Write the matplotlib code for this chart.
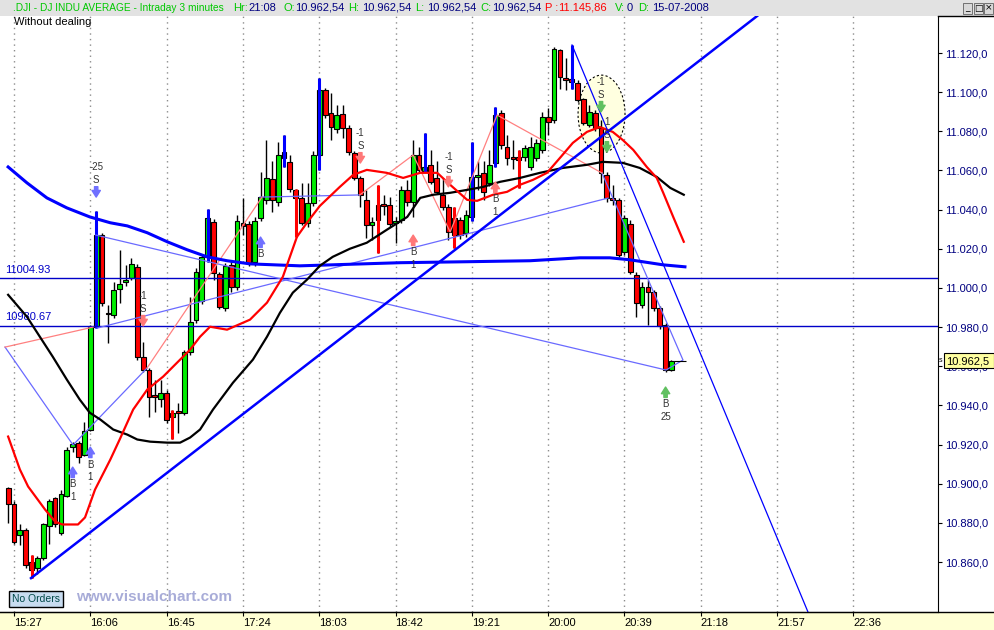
import matplotlib
matplotlib.use('Agg')
import matplotlib.pyplot as plt
from matplotlib.patches import Rectangle, Ellipse
from matplotlib.lines import Line2D
import numpy as np

plt.rcParams['font.family'] = ['Liberation Sans', 'DejaVu Sans']

W, H = 994, 630

# 3 minute bars, bar 0 = 15:27
bars = list(range(-1, 113))
opens = [10897.6, 10889.9, 10874.0, 10876.5, 10860.0, 10857.2, 10862.0, 10878.2, 10892.5, 10875.1,
         10894.0, 10919.0, 10921.0, 10914.9, 10927.7, 10980.0, 11027.0, 10987.0, 10986.3, 10999.6,
         11003.2, 11005.2, 11010.8, 10964.9, 10958.3, 10945.5, 10943.5, 10946.5, 10934.3, 10936.8,
         10936.3, 10967.4, 10983.8, 10993.5, 11015.9, 11033.8, 11007.2, 10989.9, 11011.8, 11000.6,
         11033.3, 11032.8, 11013.4, 11035.8, 11045.0, 11055.7, 11044.0, 11069.5, 11064.4, 11050.1,
         11046.0, 11033.3, 11043.5, 11068.0, 11101.1, 11089.4, 11081.2, 11088.9, 11081.7, 11069.0,
         11056.2, 11045.0, 11032.2, 11042.4, 11042.4, 11042.4, 11033.3, 11034.8, 11050.1, 11044.0,
         11068.0, 11059.8, 11062.9, 11056.2, 11047.6, 11041.4, 11035.8, 11034.8, 11028.2, 11036.3,
         11056.7, 11058.8, 11053.7, 11063.9, 11089.4, 11072.0, 11066.9, 11066.9, 11066.9, 11061.8,
         11066.4, 11070.5, 11087.3, 11085.8, 11121.5, 11107.2, 11106.7, 11104.7, 11096.5, 11083.3,
         11089.4, 11081.7, 11057.8, 11046.0, 11045.0, 11018.5, 11032.8, 11006.7, 10991.4, 11000.6,
         10998.1, 10989.9, 10981.2, 10958.3]
highs = [10898.5, 10891.0, 10879.7, 10877.5, 10863.4, 10863.0, 10880.0, 10892.0, 10893.0, 10897.0,
         10919.0, 10921.5, 10922.0, 10931.7, 10981.0, 11039.4, 11028.2, 10991.4, 11003.2, 11019.5,
         11011.8, 11015.4, 11012.0, 10972.5, 10959.0, 10953.2, 10953.2, 10948.1, 10937.9, 10941.4,
         10968.5, 10995.5, 11010.0, 11017.0, 11040.4, 11035.0, 11008.0, 11013.0, 11014.0, 11037.3,
         11046.0, 11034.0, 11036.0, 11059.3, 11075.6, 11065.0, 11074.6, 11078.2, 11068.0, 11050.5,
         11053.7, 11053.7, 11070.0, 11107.2, 11102.0, 11099.6, 11093.5, 11093.5, 11083.0, 11070.0,
         11057.0, 11050.0, 11036.0, 11052.7, 11047.6, 11046.5, 11036.0, 11052.0, 11055.2, 11075.6,
         11072.0, 11079.2, 11070.5, 11065.0, 11056.0, 11043.0, 11041.4, 11036.0, 11040.0, 11074.6,
         11065.0, 11065.0, 11070.5, 11092.4, 11091.0, 11078.0, 11075.6, 11070.5, 11073.0, 11077.1,
         11076.0, 11090.0, 11091.9, 11123.1, 11122.0, 11117.4, 11124.1, 11106.0, 11097.0, 11093.5,
         11091.0, 11085.8, 11059.0, 11052.7, 11046.0, 11037.3, 11034.8, 11008.0, 11003.2, 11004.0,
         10999.0, 10991.0, 10982.0, 10963.0]
lows = [10880.2, 10869.0, 10868.5, 10857.0, 10852.1, 10853.7, 10861.0, 10869.0, 10878.0, 10874.0,
        10893.0, 10916.4, 10910.8, 10914.0, 10927.0, 10979.7, 10991.0, 10972.0, 10984.8, 10992.5,
        11001.0, 11004.0, 10963.4, 10957.0, 10934.3, 10936.8, 10939.4, 10931.0, 10923.1, 10926.1,
        10935.0, 10966.0, 10982.0, 10992.0, 11013.4, 11004.2, 10989.0, 10988.0, 10998.0, 10999.0,
        11027.0, 11011.0, 11011.0, 11034.0, 11043.0, 11039.0, 11042.0, 11061.8, 11049.0, 11026.1,
        11032.0, 11031.0, 11042.0, 11060.3, 11087.0, 11075.6, 11079.0, 11076.6, 11068.0, 11055.0,
        11041.4, 11025.6, 11024.6, 11018.0, 11037.3, 11031.0, 11023.1, 11033.0, 11042.0, 11036.3,
        11059.0, 11059.0, 11053.0, 11048.0, 11040.0, 11024.6, 11020.5, 11025.0, 11026.0, 11034.0,
        11050.0, 11045.0, 11052.0, 11062.0, 11071.0, 11063.0, 11061.0, 11051.1, 11065.0, 11060.0,
        11065.0, 11069.0, 11078.2, 11084.0, 11101.6, 11101.0, 11101.6, 11095.0, 11083.0, 11082.0,
        11080.0, 11053.7, 11044.0, 11042.4, 11016.0, 11017.0, 11007.0, 10985.3, 10990.0, 10981.2,
        10988.0, 10979.0, 10957.2, 10957.5]
closes = [10889.9, 10870.0, 10876.5, 10858.3, 10856.0, 10862.3, 10879.2, 10891.4, 10879.2, 10895.0,
          10917.4, 10920.5, 10913.9, 10927.1, 10980.2, 11027.1, 10992.5, 10986.5, 10999.1, 11002.1,
          11004.2, 11012.3, 10964.9, 10958.3, 10944.5, 10944.5, 10946.5, 10932.8, 10936.3, 10936.3,
          10967.4, 10982.8, 11008.3, 11015.9, 11035.8, 11007.8, 10990.4, 11011.3, 11000.6, 11034.3,
          11031.7, 11012.9, 11034.3, 11046.5, 11056.2, 11045.0, 11068.0, 11066.4, 11050.6, 11046.0,
          11033.3, 11043.5, 11068.0, 11101.1, 11088.4, 11082.2, 11088.4, 11081.7, 11069.5, 11056.2,
          11047.6, 11032.2, 11033.8, 11034.8, 11042.0, 11032.8, 11034.3, 11050.1, 11044.0, 11068.0,
          11060.3, 11061.8, 11054.2, 11049.1, 11041.4, 11028.7, 11027.1, 11027.1, 11037.3, 11056.7,
          11057.8, 11049.1, 11062.9, 11088.4, 11073.1, 11066.4, 11065.9, 11065.4, 11071.5, 11072.0,
          11074.1, 11087.3, 11084.8, 11122.0, 11107.8, 11106.2, 11105.2, 11096.0, 11084.3, 11089.9,
          11081.7, 11058.8, 11046.0, 11045.0, 11017.0, 11035.8, 11008.3, 10992.5, 11000.6, 10998.1,
          10989.9, 10980.7, 10958.3, 10962.5]

# swing bars marked by the indicator
mark_high = [14, 33, 46, 52, 70, 78, 82, 95]
mark_low = [3, 27, 48, 62, 75, 86]

# moving averages (shifted 2 bars ahead)
red_ma_x = [-1, 1, 2.4, 5.3, 7, 8.2, 10.9, 12.1, 13.8, 16.4, 18, 20.3, 22.7, 25.4, 28.3, 30, 31.7,
            33.4, 36.3, 40.2, 43.1, 45.8, 48.2, 49.9, 52.1, 55.5, 57.8, 60.1, 63.5, 66.3, 69.2, 72.1,
            74.3, 77.2, 78.9, 81.6, 84, 86.2, 88.4, 90.8, 93, 95.2, 97.6, 99.8, 102, 103.7, 105.5,
            107.8, 109.5, 110.6, 112.3, 114.1]
red_ma = [10924.1, 10907.3, 10898.6, 10886.8, 10880.7, 10879.2, 10879.2, 10882.8, 10897, 10912.3,
          10922.6, 10937.9, 10948.1, 10954.7, 10963.4, 10968.5, 10975.1, 10980.2, 10978.7, 10983.8,
          10992.5, 11005.7, 11026.1, 11033.3, 11041.9, 11051.6, 11057.8, 11060.3, 11058.8, 11056.2,
          11058.8, 11058.8, 11052.7, 11045, 11044.5, 11047.6, 11049.1, 11052.7, 11055.2, 11058.8,
          11066.4, 11074.1, 11079.7, 11082.2, 11079.7, 11075.6, 11070.5, 11061.8, 11056.2, 11048.6,
          11036.3, 11023.6]
black_ma_x = [-1, 2.2, 4.4, 6.6, 9, 11.2, 12.9, 14.7, 16.9, 19.3, 21, 23.2, 26.1, 28.3, 30, 31.7,
              33.9, 37.3, 40.7, 43.1, 45.3, 47.5, 49.9, 52.1, 54.3, 57.2, 60.1, 63.5, 67, 69.2, 71.4,
              74.3, 77.2, 79.9, 82.8, 86.2, 89.6, 93.5, 97.6, 100.3, 103.7, 106.6, 109.5, 111.8, 114.1]
black_ma = [10996.5, 10985.3, 10975.1, 10964.9, 10953.2, 10943, 10936.3, 10932.8, 10927.7, 10925.1,
            10922.6, 10921.5, 10921, 10921, 10923.6, 10927.7, 10937.9, 10951.6, 10963.4, 10975.1,
            10987.3, 10997.6, 11004.2, 11011.3, 11015.9, 11020, 11023.1, 11029.7, 11036.3, 11046,
            11047.6, 11048.6, 11050.1, 11051.6, 11054.2, 11056.2, 11058.8, 11061.3, 11062.9, 11064.4,
            11063.9, 11061.3, 11056.7, 11051.1, 11047.6]
blue_ma_x = [-1, 2.2, 5.6, 9, 12.9, 16.4, 19.3, 22.7, 26.1, 29.5, 32.9, 36.3, 40.2, 48.7, 65.8, 77.2,
             87.9, 96.4, 101.5, 104.9, 110.6, 114.3]
blue_ma = [11061.8, 11053.7, 11046, 11040.9, 11036.3, 11033.3, 11031.7, 11028.2, 11023.6, 11019.5,
           11015.9, 11013.9, 11012.3, 11011.3, 11012.9, 11013.4, 11013.9, 11015.4, 11015.4, 11014.4,
           11011.8, 11010.8]

# zigzag / channel lines
zz_blue = [([-1.53, 10.06, 22.66], [10969.8, 10919.8, 10959.1]),
           ([41.9, 58.9], [11046.4, 11047.5]),
           ([13.97, 111.07, 113.97, 100.17], [11027.0, 10958.1, 10963.2, 11058.7]),
           ([14.14, 101.19], [10979.5, 11045.9])]
zz_red = [([-1.53, 13.46], [10969.8, 10980.0]),
          ([22.66, 42.25], [10959.1, 11046.4]),
          ([58.9, 68.0, 74.3, 82.3, 100.17], [11047.5, 11067.9, 11028.6, 11088.3, 11058.7])]

# trend lines
up_trend_x, up_trend_y = [2.9, 126.6], [10851.8, 11138.9]
down_trend_x, down_trend_y = [95.06, 135.26], [11124.1, 10834.5]
levels = [11004.93, 10980.67]

# trade signals
sig_bar = [14, 22, 10, 13, 42, 59, 68, 74, 82, 100, 101, 111]
sig_price = [11046.4, 10980.6, 10908.5, 10918.7, 11026.0, 11063.8, 11027.0, 11051.6, 11054.1,
             11089.9, 11069.4, 10949.4]
sig_side = ['S', 'S', 'B', 'B', 'B', 'S', 'B', 'S', 'B', 'S', 'S', 'B']
sig_qty = ['-25', '-1', '1', '1', '', '-1', '1', '-1', '1', '-1', '1', '25']
sig_col = ['#7070ff', '#ff7878', '#7070ff', '#7070ff', '#7070ff', '#ff7878', '#ff7878', '#ff7878',
           '#ff7878', '#60c060', '#60c060', '#60c060']

time_pos = [0, 13, 26, 39, 52, 65, 78, 91, 104, 117, 130, 143]
time_labels = ['15:27', '16:06', '16:45', '17:24', '18:03', '18:42', '19:21', '20:00', '20:39',
               '21:18', '21:57', '22:36']
price_ticks = list(range(10860, 11121, 20))
last_price = 10962.5

fig = plt.figure(figsize=(W / 100, H / 100), dpi=100)
fig.patch.set_facecolor('white')
ax = fig.add_axes([0, 18 / H, 938 / W, 596 / H])
ax.set_xlim(-2.385, 157.41)
ax.set_ylim(10834.5, 11138.9)

for t in time_pos:
    ax.axvline(t, color='#8c8c8c', lw=1, ls=(0, (1, 3)), zorder=0)

ax.add_patch(Ellipse((100.09, 11088.8), 8.0, 39.8, facecolor='#ffffe0', edgecolor='black',
                     lw=0.8, ls=(0, (2, 2)), zorder=1))

# candles
o, h, l, c = map(np.array, (opens, highs, lows, closes))
up = c >= o
ax.vlines(bars, l, h, color='black', lw=1, zorder=3)
ax.bar(bars, np.maximum(np.abs(c - o), 0.8), bottom=np.minimum(o, c), width=0.82,
       color=np.where(up, '#00ee00', '#ff0000'), edgecolor='black', linewidth=0.8, zorder=3.2)
for b in mark_high:
    k = bars.index(b)
    ax.vlines(b, l[k], h[k], color='#0000ff', lw=2.2, zorder=3.5)
for b in mark_low:
    k = bars.index(b)
    ax.vlines(b, l[k], h[k], color='#ff0000', lw=2.2, zorder=3.5)

for lv in levels:
    ax.axhline(lv, color='#0000c8', lw=1, zorder=4)
for xs, ys in zz_blue:
    ax.plot(xs, ys, color='#6a6aff', lw=0.9, zorder=4)
for xs, ys in zz_red:
    ax.plot(xs, ys, color='#ff8080', lw=0.9, zorder=4)

ax.plot(blue_ma_x, blue_ma, color='#0000ff', lw=2.2, zorder=5)
ax.plot(black_ma_x, black_ma, color='black', lw=1.6, zorder=5)
ax.plot(red_ma_x, red_ma, color='#ff0000', lw=1.6, zorder=5)
ax.plot(up_trend_x, up_trend_y, color='#0000ff', lw=1.8, zorder=5)
ax.plot(down_trend_x, down_trend_y, color='#0000ff', lw=0.9, zorder=5)
ax.hlines(last_price, 112.5, 114.5, color='black', lw=0.8, zorder=5)

for b, p, side, qty, col in zip(sig_bar, sig_price, sig_side, sig_qty, sig_col):
    d = 1 if side == 'S' else -1
    ax.annotate('', xy=(b, p), xytext=(0, d * 7.5), textcoords='offset points',
                arrowprops=dict(arrowstyle='simple,head_width=0.75,head_length=0.6,tail_width=0.3',
                                color=col, mutation_scale=8, shrinkA=0, shrinkB=0), zorder=6)
    ax.annotate(side, xy=(b, p), xytext=(0, d * 12.5), textcoords='offset points', ha='center',
                va='center', fontsize=7, color='#333333', zorder=6)
    if qty:
        ax.annotate(qty, xy=(b, p), xytext=(0, d * 21.5), textcoords='offset points',
                    ha='center', va='center', fontsize=7, color='#333333', zorder=6)

for lv, lab in zip(levels, ['11004.93', '10980.67']):
    ax.annotate(lab, xy=(0, lv), xycoords=('axes fraction', 'data'), xytext=(4, 6),
                textcoords='offset points', fontsize=8, color='#0000c8', va='center')

# axes styling
for s in ['left', 'top']:
    ax.spines[s].set_visible(False)
ax.spines['right'].set_color('black')
ax.spines['bottom'].set_color('black')
ax.yaxis.tick_right()
ax.set_yticks(price_ticks)
ax.set_yticklabels([f'{v // 1000}.{v % 1000:03d},0' for v in price_ticks])
ax.tick_params(axis='y', direction='out', length=3, pad=2, labelsize=8, labelcolor='#000080')
ax.set_xticks(time_pos)
ax.set_xticklabels(time_labels)
ax.tick_params(axis='x', direction='out', length=3, pad=1.5, labelsize=8)
for t in ax.get_xticklabels():
    t.set_ha('left')

# frame decorations
fig.add_artist(Rectangle((0, 0), 1, 18 / H, transform=fig.transFigure, facecolor='#ffffd4',
                         edgecolor='none', zorder=-1))
fig.add_artist(Line2D([0, 1], [18 / H, 18 / H], color='black', lw=1))
fig.add_artist(Rectangle((0, 1 - 16 / H), 1, 16 / H, transform=fig.transFigure,
                         facecolor='#e2e2e2', edgecolor='none'))
fig.add_artist(Line2D([938 / W, 1], [1 - 16 / H, 1 - 16 / H], color='black', lw=1))

green, navy, red = '#00c800', '#000080', '#ff0000'
header = [(13, '.DJI - DJ INDU AVERAGE - Intraday 3 minutes', green), (233, 'Hr:', green),
          (248, '21:08', navy), (283, 'O:', green), (295, '10.962,54', navy), (348, 'H:', green),
          (362, '10.962,54', navy), (415, 'L:', green), (427, '10.962,54', navy), (480, 'C:', green),
          (492, '10.962,54', navy), (545, 'P :', red), (558, '11.145,86', red), (615, 'V:', green),
          (627, '0', navy), (638, 'D:', green), (652, '15-07-2008', navy)]
for k, (x, txt, col) in enumerate(header):
    fig.text(x / W, 1 - 8 / H, txt, color=col, fontsize=7.3 if k == 0 else 8, va='center',
             ha='left')
for x, glyph in [(963, '_'), (974, '□'), (984, '×')]:
    fig.add_artist(Rectangle((x / W, 1 - 14 / H), 9 / W, 11 / H, transform=fig.transFigure,
                             facecolor='#d8d8d8', edgecolor='#606060', lw=0.6))
    fig.text((x + 4.5) / W, 1 - 8 / H, glyph, fontsize=6.5, ha='center', va='center',
             family=['DejaVu Sans'])

fig.text(14 / W, 1 - 22 / H, 'Without dealing', fontsize=8, color='black', va='center')
fig.text(12 / W, 1 - 599 / H, 'No Orders', fontsize=7.5, color='#004848', va='center',
         bbox=dict(boxstyle='square,pad=0.25', fc='#c8dcf0', ec='black', lw=1))
fig.text(76 / W, 1 - 597 / H, 'www.visualchart.com', fontsize=11, fontweight='bold',
         color='#a8acd8', va='center')

fig.add_artist(Rectangle((944 / W, 1 - 368 / H), 50 / W, 15 / H, transform=fig.transFigure,
                         facecolor='#ffffa0', edgecolor='black', lw=0.8, zorder=10))
fig.text(946 / W, 1 - 361 / H, '10.962,5', fontsize=8, color='black', va='center', zorder=11)
fig.text(939 / W, 1 - 360 / H, 's', fontsize=5, color='black', va='center', zorder=11)

fig.savefig('out.png', dpi=100)
